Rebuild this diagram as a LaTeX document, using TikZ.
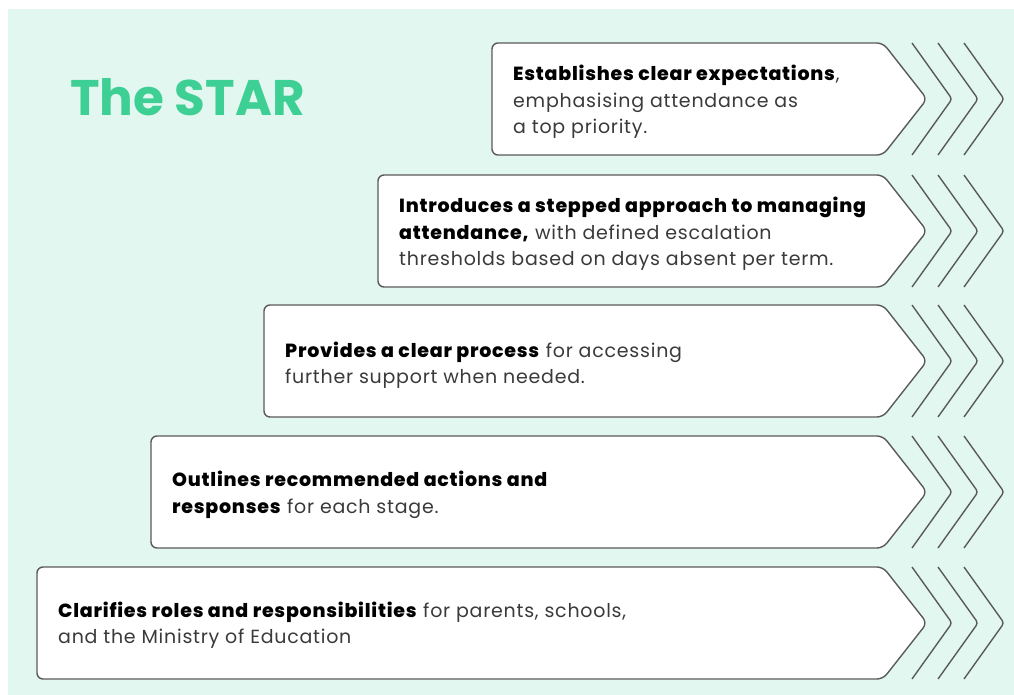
\documentclass[tikz,border=0pt]{standalone}
\usepackage{fontspec}
\setmainfont{Poppins}[LetterSpace=4, BoldFont={Poppins ExtraBold}]
\newfontfamily\headfont{Poppins}
\usetikzlibrary{positioning}
\definecolor{mint}{HTML}{E3F7F1}
\definecolor{stargreen}{HTML}{3DCF94}
\definecolor{edgegray}{HTML}{5A5A5A}
\definecolor{bodygray}{HTML}{3A3A3A}
\tikzset{
  boxline/.style={draw=edgegray, line width=1.4pt, line join=round},
  desc/.style={anchor=west, align=left, text=bodygray, inner sep=0pt,
    font=\fontsize{19}{26.5}\selectfont},
  heading/.style={anchor=west, inner sep=0pt, text=stargreen,
    font=\headfont\fontsize{50}{60}\selectfont\bfseries}
}
\newcommand{\keyword}[1]{\textcolor{black}{\textbf{#1}}}

\begin{document}
\begin{tikzpicture}[x=1pt,y=-1pt]
\useasboundingbox (0,0) rectangle (1014,695);
\fill[white] (0,0) rectangle (1014,695);
\fill[mint] (8,9) rectangle (1014,695);

% stepped boxes with three chevrons each
\foreach \l/\t in {492/43, 378/175, 264/305, 151/436, 37/567} {
  \draw[boxline, fill=white, rounded corners=6pt] (\l,\t) -- (883,\t) -- (927,\t+56) -- (883,\t+112) -- (\l,\t+112) -- cycle;
  \foreach \d in {0,26,52}
    \draw[boxline, rounded corners=3pt] (912+\d,\t) -- (952+\d,\t+56) -- (912+\d,\t+112);
}

\node[heading] (star) at (70,97) {The STAR};

\node[desc] (expect) at (513,102) {\keyword{Establishes clear expectations},\\emphasising attendance as\\a top priority.};
\node[desc] (stepped) at (399,234) {\keyword{Introduces a stepped approach to managing}\\\keyword{attendance,} with defined escalation\\thresholds based on days absent per term.};
\node[desc] (process) at (285,365) {\keyword{Provides a clear process} for accessing\\further support when needed.};
\node[desc] (actions) at (172,495) {\keyword{Outlines recommended actions and}\\\keyword{responses} for each stage.};
\node[desc] (roles) at (58,625) {\keyword{Clarifies roles and responsibilities} for parents, schools,\\and the Ministry of Education};
\end{tikzpicture}
\end{document}
